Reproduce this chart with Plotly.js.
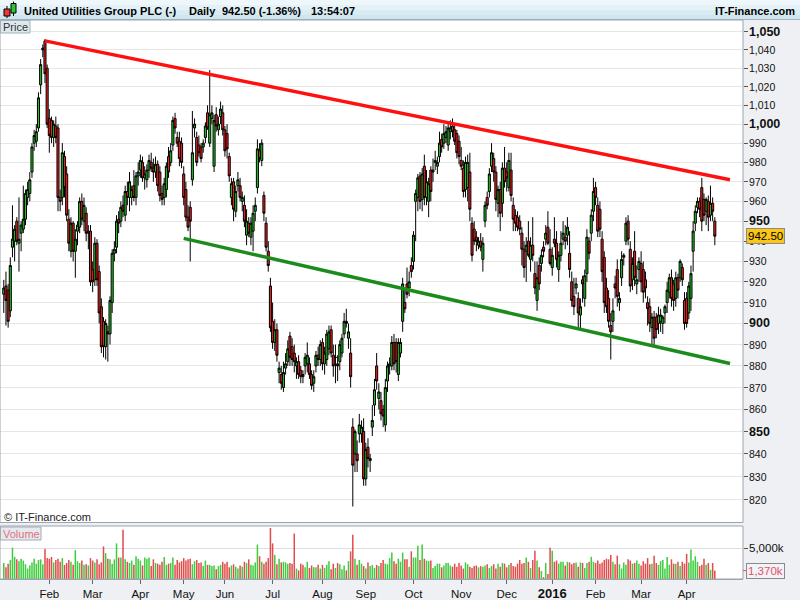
<!DOCTYPE html>
<html><head><meta charset="utf-8">
<script src="https://cdn.plot.ly/plotly-3.0.1.min.js"></script>
<style>html,body{margin:0;padding:0;background:#eef0f3;}#chart{width:800px;height:600px;}</style>
</head><body><div id="chart"></div>
<script>
// ---- DATA (daily OHLC, United Utilities Group PLC, pence) ----
const opens = [
914,918,916,906,937,940,950,939,944,946, 951,962,964,975,990,991,998,1021,1040,1045,
1030,1003,1002,993,999,998,962,962,983,974, 951,935,949,935,945,947,960,950,954,944,
945,926,921,939,925,908,901,889,896,895, 910,934,937,951,950,958,953,965,962,962,
968,962,973,976,980,972,971,976,980,977, 975,979,975,964,962,966,983,980,989,1003,
993,991,990,974,966,952,957,971,998,993, 989,988,988,993,1006,990,1003,978,1005,997,
1004,1006,997,995,983,962,970,955,968,968, 960,958,943,949,942,945,955,967,986,981,
963,949,935,918,901,891,897,877,876,870, 879,882,894,889,886,880,882,878,876,880,
881,881,876,872,880,885,883,891,881,883, 888,897,885,884,881,882,886,895,901,893,
886,852,840,840,849,849,850,829,843,837, 852,862,880,865,864,860,853,873,880,880,
891,891,876,886,901,910,919,917,928,930, 960,962,973,961,978,962,960,976,975,980,
978,983,992,990,993,989,996,999,997,995, 991,981,977,966,967,975,949,946,942,938,
940,931,950,962,965,978,982,975,959,966, 959,977,975,967,976,958,953,952,950,944,
936,935,940,931,938,924,911,928,929,937, 941,947,936,927,941,939,926,933,941,942,
943,934,920,913,917,912,904,921,912,924, 940,944,955,967,958,956,941,932,917,912,
899,901,919,926,910,922,932,940,950,936, 921,935,919,926,929,926,921,910,908,898,
903,903,900,901,900,905,910,915,922,919, 912,922,922,927,911,912,905,912,935,949,
957,960,967,961,955,960,953,959,950];
const highs = [
921,925,919,932,958,948,952,962,950,968, 966,970,975,990,997,1000,1017,1035,1043,1046,
1032,1008,1004,1002,1004,1000,966,990,986,978, 956,952,950,946,950,962,964,962,957,948,
948,930,942,941,928,912,903,902,899,913, 936,940,953,955,960,963,968,970,975,968,
976,975,980,984,983,978,979,984,985,982, 983,981,978,968,972,980,988,990,1004,1006,
996,996,993,978,970,958,960,1007,1003,996, 994,990,992,1001,1010,1029,1010,1005,1009,1004,
1012,1010,999,1000,985,972,972,968,975,972, 965,963,956,952,952,958,962,992,990,992,
965,952,940,922,910,902,900,882,880,882, 886,892,896,893,890,884,885,880,878,886,
891,884,878,878,887,889,892,893,889,897, 899,899,890,890,885,892,895,905,907,900,
893,856,851,846,858,855,856,845,847,840, 862,874,886,872,868,862,874,882,884,894,
895,893,893,893,922,917,927,925,932,945, 966,974,975,977,984,976,972,978,982,986,
983,996,995,1000,999,1000,1002,1003,1000,997, 994,988,981,983,984,985,952,950,945,942,
944,942,960,965,977,990,985,978,968,970, 980,988,980,985,985,962,956,955,953,947,
940,942,950,942,952,930,930,932,936,940, 948,955,946,937,952,945,935,945,950,948,
952,945,925,922,922,915,912,923,926,946, 942,956,972,970,962,960,945,935,922,916,
905,912,923,931,915,935,934,952,953,940, 932,945,928,932,935,930,925,913,912,905,
906,905,908,907,904,909,920,924,926,921, 925,924,931,929,915,915,920,928,950,958,
962,962,972,964,962,963,968,962,952];
const lows = [
905,899,898,903,932,930,938,925,935,944, 948,958,960,972,986,988,996,1016,1036,1022,
998,985,990,988,990,955,955,958,962,950, 935,932,930,922,938,944,948,945,940,936,
918,915,918,918,900,886,884,883,882,890, 905,930,934,944,947,952,950,958,955,958,
960,958,968,972,970,966,967,972,975,970, 972,965,960,958,958,962,972,978,986,995,
988,978,977,958,950,945,930,968,993,978, 983,980,985,990,997,988,1000,975,996,994,
1000,994,983,982,970,958,950,952,965,960, 955,947,938,942,938,935,950,964,980,978,
950,935,925,896,888,887,882,872,869,868, 876,880,880,880,877,874,874,872,872,876,
877,874,869,868,877,880,880,878,876,880, 885,884,875,872,873,878,884,893,898,888,
870,817,832,832,845,845,826,826,834,832, 848,857,869,860,855,852,850,868,876,878,
878,877,873,884,896,905,912,913,922,926, 940,955,956,955,958,958,952,960,970,976,
974,980,985,987,990,986,992,993,989,982, 979,976,962,962,960,950,930,938,935,936,
935,925,947,956,962,975,970,955,952,945, 952,967,965,965,960,945,945,945,943,928,
922,920,932,925,930,914,906,916,925,932, 938,938,928,923,937,927,920,930,938,936,
938,922,908,904,914,898,897,910,908,920, 931,940,950,958,942,942,920,905,905,898,
883,896,912,908,906,918,928,938,938,915, 916,918,914,920,915,910,912,899,896,890,
889,893,895,896,895,900,905,912,908,906, 908,912,920,918,897,898,902,906,925,945,
954,952,945,950,948,945,950,950,938];
const closes = [
917,911,901,928,941,946,940,941,948,951, 964,966,971,988,994,996,1014,1032,1041,1027,
1000,994,993,1000,993,962,960,985,967,953, 939,949,935,941,948,960,951,958,944,945,
920,920,939,921,905,889,889,900,895,911, 934,936,950,949,957,955,965,962,970,966,
962,973,975,981,972,974,976,981,977,975, 979,968,963,961,969,978,975,986,1002,998,
990,982,980,962,952,947,950,985,1000,980, 985,982,990,999,998,1005,1006,1002,999,1000,
1008,997,986,987,973,969,956,965,971,962, 962,950,950,944,949,954,958,987,982,990,
954,937,928,898,891,897,885,879,872,877, 881,888,884,883,882,882,876,875,875,884,
885,876,871,875,885,883,890,881,886,895, 896,886,880,884,880,890,893,901,900,896,
875,835,850,837,853,852,829,842,838,838, 855,869,873,868,858,857,870,880,881,891,
881,882,891,891,919,907,914,920,925,943, 964,972,960,974,962,970,969,965,976,981,
980,990,988,995,996,998,998,996,991,985, 983,978,965,980,980,956,933,940,940,940,
937,939,958,958,974,985,975,961,966,954, 977,970,972,981,963,951,949,947,946,936,
927,938,933,938,933,917,922,919,933,935, 944,939,929,933,939,931,933,939,944,940,
947,926,911,908,919,905,908,919,923,942, 934,953,965,962,945,946,925,910,908,901,
896,906,917,913,912,931,933,949,941,918, 929,922,921,930,920,915,917,907,900,903,
893,897,904,904,903,908,916,922,912,911, 922,916,930,921,900,900,918,924,945,955,
960,956,950,953,961,952,959,955,942.5];
// volume in thousands of shares
const volumes = [
2600,1900,2500,3100,5100,3600,3200,2900,3300,3000, 2400,1700,2200,2700,3300,2500,3100,3200,2400,4900,
3400,3300,3600,2700,3100,3300,2800,3400,2300,2600, 3100,2800,2300,4700,2900,2600,3000,2300,2400,2200,
3400,3000,2700,3200,2400,2700,5300,4200,3300,3200, 2500,3200,5800,3500,3500,8000,3200,2800,2600,3000,
2300,3700,3300,3000,2200,3500,3300,3500,2100,3200, 2600,2500,2300,2800,3600,2300,2500,2600,3500,2300,
3100,2700,2900,3400,3000,3200,3300,2400,2900,3100, 2600,2700,2100,3000,2300,2300,2100,2200,1600,2100,
2300,2800,2500,2800,1900,2200,2400,2000,1700,2200, 2000,2800,2600,3200,2300,2200,2700,5600,3700,2800,
2500,2800,3400,8300,5800,3900,2400,3300,2700,2800, 2700,2500,2600,2500,7400,1700,1400,2500,2300,1900,
2800,1800,2200,1900,1900,2300,1700,2300,1800,2300, 2900,1600,2500,1800,2600,2400,1600,2200,1400,2900,
4500,7200,3300,2300,3100,2500,2100,1700,2700,2100, 2300,1800,2300,2100,2600,3100,2500,2400,3400,4300,
2900,2500,3300,2800,4300,3200,3200,2000,4500,3500, 3500,5400,3100,5600,3300,3000,2900,3000,1800,2100,
2500,2500,1900,2200,2600,2600,2200,2000,2500,2000, 2600,2200,1700,2700,2400,2000,1800,2100,2200,1900,
2100,2000,2200,2400,1800,2100,2400,1700,2500,2000, 2600,2500,1900,2300,2600,2100,2000,2500,3100,2500,
2600,3500,2800,1800,3100,4600,3000,1900,1300,300, 2600,800,5100,4600,2800,3000,2500,2800,2800,2200,
2800,2700,2400,2600,2700,2000,2700,2600,1800,2600, 2800,3600,2800,2600,3000,2500,2700,3100,3300,3200,
3900,2800,2400,3800,2400,1700,2700,2300,3200,3000, 2500,2600,3000,2500,2200,2900,2500,3400,2400,2500,
3800,2600,2300,2900,3100,1700,3600,2300,3200,2500, 2500,2800,2100,2800,2500,4100,2700,4800,3000,3700,
2800,2100,2300,3300,2300,2600,1500,2600,1370];
const priceTicks = [820,830,840,850,860,870,880,890,900,910,920,930,940,950,960,970,980,990,1000,1010,1020,1030,1040,1050];
const volumeTicks = [5000];
const monthNames = ['Jan','Feb','Mar','Apr','May','Jun','Jul','Aug','Sep','Oct','Nov','Dec'];
const holidays = ['2015-01-01','2015-04-03','2015-04-06','2015-05-04','2015-05-25','2015-08-31','2015-12-25','2015-12-28','2016-01-01','2016-03-25','2016-03-28','2016-05-02','2016-05-30'];
const firstDate = '2015-01-02';
// trend lines drawn on the chart: [date, price]
const redTrendDates = ['2015-01-29','2016-04-29'];
const redTrendPrices = [1045, 971];
const greenTrendDates = ['2015-05-01','2016-04-29'];
const greenTrendPrices = [941.4, 881.1];
const lastPrice = 942.50;
const lastVolume = 1370;

// ---- trading calendar ----
function tradingDays(start, count){
  const out=[]; const d=new Date(start+'T00:00:00Z');
  while(out.length<count){
    const s=d.toISOString().slice(0,10); const wd=d.getUTCDay();
    if(wd!==0 && wd!==6 && holidays.indexOf(s)<0) out.push(s);
    d.setUTCDate(d.getUTCDate()+1);
  }
  return out;
}
const dates = tradingDays(firstDate, 360);
const idx = s => dates.indexOf(s);
const xs = closes.map((_,i)=>i);

const XMAX = 341;
const tickvals=[], ticktext=[];
for(let k=1;k<closes.length;k++){
  const m=+dates[k].slice(5,7)-1, pm=+dates[k-1].slice(5,7)-1;
  if(m!==pm){ tickvals.push(k); ticktext.push(m===0?'<span style="font-size:13px"><b>'+dates[k].slice(0,4)+'</b></span>':monthNames[m]); }
}

const GREEN='#1fc41f', RED='#f21d1d';
const volColors = closes.map((c,i)=> c>=opens[i] ? '#3fcc3f' : '#e24c4c');

const FONT='Liberation Sans, Arial, sans-serif';
const W=800,H=600;
const px=x=>x/W, py=y=>1-y/H;
const XR = 743/W;

const traces=[
 {type:'candlestick', x:xs, open:opens, high:highs, low:lows, close:closes, xaxis:'x', yaxis:'y',
  increasing:{line:{color:'#000',width:1}, fillcolor:GREEN},
  decreasing:{line:{color:'#000',width:1}, fillcolor:RED},
  whiskerwidth:0, hoverinfo:'skip', showlegend:false},
 {type:'scatter', mode:'lines', x:redTrendDates.map(idx), y:redTrendPrices, xaxis:'x', yaxis:'y',
  line:{color:'#ff1010',width:3.5}, hoverinfo:'skip', showlegend:false},
 {type:'scatter', mode:'lines', x:greenTrendDates.map(idx), y:greenTrendPrices, xaxis:'x', yaxis:'y',
  line:{color:'#1b8c1b',width:3.5}, hoverinfo:'skip', showlegend:false},
 {type:'bar', x:xs, y:volumes, xaxis:'x', yaxis:'y2', marker:{color:volColors,line:{width:0}},
  hoverinfo:'skip', showlegend:false}
];

const shapes=[];
// header gradient bands
const bands=[['#eef7fb',0,5],['#e4f2f8',5,10],['#d9ecf4',10,15],['#cfe5ef',15,19]];
bands.forEach(b=>shapes.push({type:'rect',xref:'paper',yref:'paper',x0:0,x1:1,y0:py(b[2]),y1:py(b[1]),fillcolor:b[0],line:{width:0},layer:'below'}));
shapes.push({type:'line',xref:'paper',yref:'paper',x0:0,x1:1,y0:py(19.5),y1:py(19.5),line:{color:'#a6b3bc',width:1}});
// header icon
shapes.push({type:'line',xref:'paper',yref:'paper',x0:px(7),x1:px(7),y0:py(18),y1:py(6),line:{color:'#000',width:1}});
shapes.push({type:'rect',xref:'paper',yref:'paper',x0:px(4),x1:px(10),y0:py(16),y1:py(9),fillcolor:'#e83a3a',line:{color:'#000',width:1}});
shapes.push({type:'line',xref:'paper',yref:'paper',x0:px(13.5),x1:px(13.5),y0:py(16),y1:py(1.5),line:{color:'#000',width:1}});
shapes.push({type:'rect',xref:'paper',yref:'paper',x0:px(11),x1:px(16),y0:py(13),y1:py(3.5),fillcolor:'#33c433',line:{color:'#000',width:1}});
// darker grid lines at the round 50s
priceTicks.filter(v=>v%50===0).forEach(v=>shapes.push({type:'line',xref:'paper',yref:'y',x0:0,x1:XR,y0:Math.log10(v),y1:Math.log10(v),line:{color:'#cdcdcd',width:1},layer:'below'}));
// panel frames
shapes.push({type:'rect',xref:'paper',yref:'paper',x0:0,x1:XR,y0:py(522.5),y1:py(20),line:{color:'#9aa5ae',width:1}});
shapes.push({type:'rect',xref:'paper',yref:'paper',x0:0,x1:XR,y0:py(579),y1:py(526),line:{color:'#9aa5ae',width:1}});
// Price / Volume tag boxes
shapes.push({type:'rect',xref:'paper',yref:'paper',x0:px(0.5),x1:px(30),y0:py(33),y1:py(20.5),fillcolor:'#dde8ee',line:{color:'#a3b1ba',width:1}});
shapes.push({type:'rect',xref:'paper',yref:'paper',x0:px(0.5),x1:px(41),y0:py(540),y1:py(527),fillcolor:'#e6e9ed',line:{color:'#a3abb3',width:1}});
// last-price marker ticks
shapes.push({type:'line',xref:'paper',yref:'y',x0:XR,x1:px(747),y0:Math.log10(lastPrice),y1:Math.log10(lastPrice),line:{color:'#000',width:1}});
shapes.push({type:'line',xref:'paper',yref:'y2',x0:XR,x1:px(747),y0:lastVolume,y1:lastVolume,line:{color:'#e4506a',width:1}});

const ann=[];
const A=(o)=>ann.push(Object.assign({showarrow:false,xref:'paper',yref:'paper',xanchor:'left',yanchor:'middle',font:{family:FONT,size:11,color:'#111'}},o));
const HF={family:FONT,size:11,color:'#000',weight:'bold'};
A({x:px(22),y:py(11),text:'<b>United Utilities Group PLC (-)</b>',font:HF});
A({x:px(187),y:py(11),text:'<b>Daily</b>',font:HF});
A({x:px(220),y:py(11),text:'<b>'+lastPrice.toFixed(2)+' (-1.36%)</b>',font:HF});
A({x:px(309),y:py(11),text:'<b>13:54:07</b>',font:HF});
A({x:px(797),y:py(11),xanchor:'right',text:'<b>IT-Finance.com</b>',font:HF});
A({x:px(15.5),xanchor:'center',y:py(27),text:'Price',font:{family:FONT,size:11,color:'#333'}});
A({x:px(21),xanchor:'center',y:py(534),text:'Volume',font:{family:FONT,size:11,color:'#e0707e'}});
A({x:px(2),y:py(517),text:'© IT-Finance.com',font:{family:FONT,size:11,color:'#222'}});
priceTicks.forEach(v=>{
  const bold=v%50===0;
  A({x:px(747),yref:'y',y:Math.log10(v),text:bold?'<b>'+v.toLocaleString('en-US')+'</b>':v.toLocaleString('en-US'),
     font:{family:FONT,size:bold?12.5:10.5,color:'#111'}});
});
A({x:px(745.5),yref:'y',y:Math.log10(lastPrice),text:lastPrice.toFixed(2),bgcolor:'#fcc613',bordercolor:'#8a8a8a',borderwidth:1,borderpad:1,font:{family:FONT,size:11.5,color:'#000'}});
volumeTicks.forEach(v=>A({x:px(747),yref:'y2',y:v,text:v.toLocaleString('en-US')+'k',font:{family:FONT,size:11.5,color:'#111'}}));
A({x:px(746),yref:'y2',y:lastVolume,text:lastVolume.toLocaleString('en-US')+'k',bgcolor:'#f1f3f6',bordercolor:'#8a8a8a',borderwidth:1,borderpad:1,font:{family:FONT,size:11.5,color:'#e4506a'}});

const layout={
  width:W,height:H,margin:{l:0,r:0,t:0,b:0,pad:0},
  paper_bgcolor:'#eef0f3',plot_bgcolor:'#ffffff',showlegend:false,
  boxgap:0.05,boxgroupgap:0,bargap:0.3,
  xaxis:{domain:[0,XR],range:[-1.75,XMAX],anchor:'y2',rangeslider:{visible:false},
    tickmode:'array',tickvals:tickvals,ticktext:ticktext,ticks:'outside',ticklen:4,tickcolor:'#666',
    tickfont:{family:FONT,size:11.5,color:'#111'},showgrid:false,zeroline:false,showline:true,linecolor:'#9aa5ae',fixedrange:true},
  yaxis:{domain:[py(522.5),py(20)],type:'log',range:[Math.log10(810.1),Math.log10(1056.6)],side:'right',anchor:'x',
    tickmode:'array',tickvals:priceTicks,showticklabels:false,ticks:'outside',ticklen:4,tickcolor:'#555',
    showgrid:true,gridcolor:'#e6e6e6',zeroline:false,showline:false,fixedrange:true},
  yaxis2:{domain:[py(579),py(526)],range:[0,8630],side:'right',anchor:'x',
    tickmode:'array',tickvals:volumeTicks,showticklabels:false,ticks:'outside',ticklen:4,tickcolor:'#555',
    showgrid:true,gridcolor:'#dedede',zeroline:false,showline:false,fixedrange:true},
  shapes:shapes,annotations:ann
};
Plotly.newPlot('chart',traces,layout,{displayModeBar:false,staticPlot:true});
</script></body></html>
